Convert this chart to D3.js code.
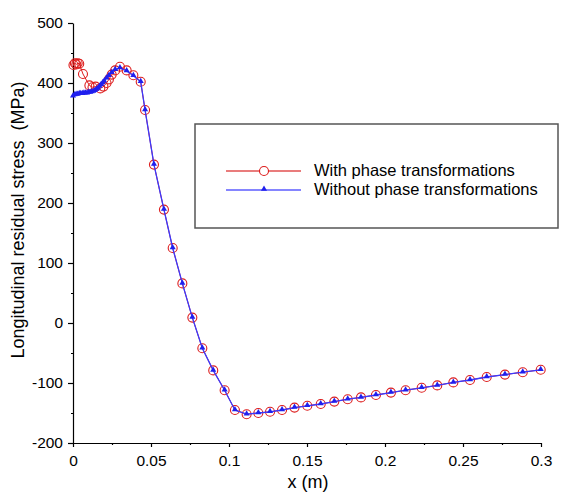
<!DOCTYPE html>
<html>
<head>
<meta charset="utf-8">
<title>Longitudinal residual stress</title>
<script src="https://cdn.jsdelivr.net/npm/d3@7/dist/d3.min.js"></script>
<style>
  body { margin: 0; background: #fff; }
  svg { font-family: "Liberation Sans", Arial, sans-serif; }
  .axis path, .axis line { stroke: #000; stroke-width: 1.2; }
  .axis text { font-size: 15.5px; fill: #000; }
</style>
</head>
<body>
<svg id="svg"></svg>
<script>
// x positions (m) and stress (MPa)
var withX = [0.0003, 0.0012, 0.0021, 0.0030, 0.0040, 0.0064, 0.0105, 0.0125, 0.0145, 0.0175,
             0.0195, 0.0215, 0.0230, 0.0248, 0.0270, 0.0301, 0.0344, 0.0387, 0.0434, 0.0462,
             0.0519, 0.0583, 0.0639, 0.0701, 0.0765, 0.0829, 0.0899, 0.0972, 0.1038, 0.1113,
             0.1188, 0.1263, 0.1340, 0.1420, 0.1502, 0.1588, 0.1675, 0.1761, 0.1846, 0.1942,
             0.2038, 0.2132, 0.2235, 0.2335, 0.2438, 0.2545, 0.2652, 0.2769, 0.2883, 0.2998];
var withY = [430, 433, 431, 433, 432, 415, 396, 393, 394, 391,
             394, 400, 406, 414, 421, 427, 421, 413, 402, 355,
             264, 189, 125, 66, 9, -42, -79, -112, -145, -152,
             -150, -148, -145, -141, -138, -135, -131, -127, -124, -120,
             -116, -112, -108, -104, -99, -95, -90, -86, -82, -78];

var withoutX = [0.0000, 0.0010, 0.0020, 0.0030, 0.0040, 0.0050, 0.0060, 0.0070, 0.0080, 0.0090,
                0.0100, 0.0110, 0.0120, 0.0130, 0.0140, 0.0150, 0.0160, 0.0170, 0.0180, 0.0190,
                0.0200, 0.0215, 0.0230, 0.0248, 0.0270, 0.0301, 0.0344, 0.0387, 0.0434, 0.0462,
                0.0519, 0.0583, 0.0639, 0.0701, 0.0765, 0.0829, 0.0899, 0.0972, 0.1038, 0.1113,
                0.1188, 0.1263, 0.1340, 0.1420, 0.1502, 0.1588, 0.1675, 0.1761, 0.1846, 0.1942,
                0.2038, 0.2132, 0.2235, 0.2335, 0.2438, 0.2545, 0.2652, 0.2769, 0.2883, 0.2998];
var withoutY = [378, 380, 381, 381, 382, 382, 382, 383, 383, 383,
                384, 384, 385, 386, 387, 389, 391, 394, 397, 400,
                403, 408, 412, 417, 422, 425, 420, 412, 402, 355,
                264, 189, 125, 66, 9, -42, -79, -112, -145, -152,
                -150, -148, -145, -141, -138, -135, -131, -127, -124, -120,
                -116, -112, -108, -104, -99, -95, -90, -86, -82, -78];

var xTicks = [0, 0.05, 0.1, 0.15, 0.2, 0.25, 0.3];
var xMinor = [0.025, 0.075, 0.125, 0.175, 0.225, 0.275];
var yTicks = [-200, -100, 0, 100, 200, 300, 400, 500];
var yMinor = [-150, -50, 50, 150, 250, 350, 450];

var seriesNames = ["With phase transformations", "Without phase transformations"];

var width = 568, height = 492,
    _margins = {top: 23, left: 73, right: 27, bottom: 49};

var svg = d3.select("#svg")
    .attr("width", width)
    .attr("height", height);

var scaleX = d3.scaleLinear().domain([0, 0.3]).range([_margins.left, width - _margins.right]);
var scaleY = d3.scaleLinear().domain([-200, 500]).range([height - _margins.bottom, _margins.top]);

var redCol = "#dd1c1c", blueCol = "#3a3aff";

// axes
var axisX = d3.axisBottom(scaleX).tickValues(xTicks).tickSize(4).tickSizeOuter(0)
    .tickPadding(8).tickFormat(function(d) { return String(d); });
svg.append("g").attr("class", "axis")
    .attr("transform", "translate(0," + scaleY(-200) + ")")
    .call(axisX);
svg.append("g").attr("class", "axis")
    .attr("transform", "translate(0," + scaleY(-200) + ")")
    .call(d3.axisBottom(scaleX).tickValues(xMinor).tickSize(2).tickSizeOuter(0).tickFormat(""))
    .select(".domain").remove();

var axisY = d3.axisLeft(scaleY).tickValues(yTicks).tickSize(5).tickSizeOuter(0)
    .tickPadding(5).tickFormat(function(d) { return String(d); });
svg.append("g").attr("class", "axis")
    .attr("transform", "translate(" + scaleX(0) + ",0)")
    .call(axisY);
svg.append("g").attr("class", "axis")
    .attr("transform", "translate(" + scaleX(0) + ",0)")
    .call(d3.axisLeft(scaleY).tickValues(yMinor).tickSize(2).tickSizeOuter(0).tickFormat(""))
    .select(".domain").remove();

// axis titles
svg.append("text")
    .attr("transform", "translate(24," + 220 + ")rotate(-90)")
    .style("text-anchor", "middle")
    .style("font-size", "18px")
    .style("white-space", "pre")
    .text("Longitudinal residual stress  (MPa)");

svg.append("text")
    .attr("x", 308)
    .attr("y", 488)
    .style("text-anchor", "middle")
    .style("font-size", "18px")
    .text("x (m)");

// series
var withData = withX.map(function(x, i) { return [x, withY[i]]; });
var withoutData = withoutX.map(function(x, i) { return [x, withoutY[i]]; });

var line = d3.line()
    .x(function(d) { return scaleX(d[0]); })
    .y(function(d) { return scaleY(d[1]); });

var tri = d3.symbol().type(d3.symbolTriangle).size(16);

svg.append("path").datum(withData)
    .attr("d", line)
    .attr("fill", "none")
    .attr("stroke", redCol)
    .attr("stroke-width", 1);

svg.selectAll("circle.with")
    .data(withData)
    .enter().append("circle")
    .attr("class", "with")
    .attr("cx", function(d) { return scaleX(d[0]); })
    .attr("cy", function(d) { return scaleY(d[1]); })
    .attr("r", 4.5)
    .attr("fill", "none")
    .attr("stroke", redCol)
    .attr("stroke-width", 1.1);

svg.append("path").datum(withoutData)
    .attr("d", line)
    .attr("fill", "none")
    .attr("stroke", blueCol)
    .attr("stroke-width", 1.3);

svg.selectAll("path.without")
    .data(withoutData)
    .enter().append("path")
    .attr("class", "without")
    .attr("d", tri)
    .attr("transform", function(d) {
        return "translate(" + scaleX(d[0]) + "," + (scaleY(d[1]) - 0.5) + ")";
    })
    .attr("fill", "#1f1fee");

// legend
var lg = svg.append("g");
lg.append("rect")
    .attr("x", 195).attr("y", 124)
    .attr("width", 363).attr("height", 104)
    .attr("fill", "#fff")
    .attr("stroke", "#555")
    .attr("stroke-width", 1.5);

var legendCols = [redCol, blueCol];
var legendLineCols = ["#e25050", "#8585ff"];
seriesNames.forEach(function(name, i) {
    var y = 171 + i * 19;
    lg.append("line")
        .attr("x1", 226).attr("x2", 301)
        .attr("y1", y).attr("y2", y)
        .attr("stroke", legendLineCols[i])
        .attr("stroke-width", i == 0 ? 1.4 : 2);
    if (i == 0) {
        lg.append("circle")
            .attr("cx", 264).attr("cy", y)
            .attr("r", 4.5)
            .attr("fill", "#fff")
            .attr("stroke", legendCols[i])
            .attr("stroke-width", 1.1);
    } else {
        lg.append("path")
            .attr("d", tri)
            .attr("transform", "translate(264," + (y - 1) + ")")
            .attr("fill", "#1f1fee");
    }
    lg.append("text")
        .attr("x", 314)
        .attr("y", y + 5)
        .style("font-size", "16.5px")
        .text(name);
});
</script>
</body>
</html>
